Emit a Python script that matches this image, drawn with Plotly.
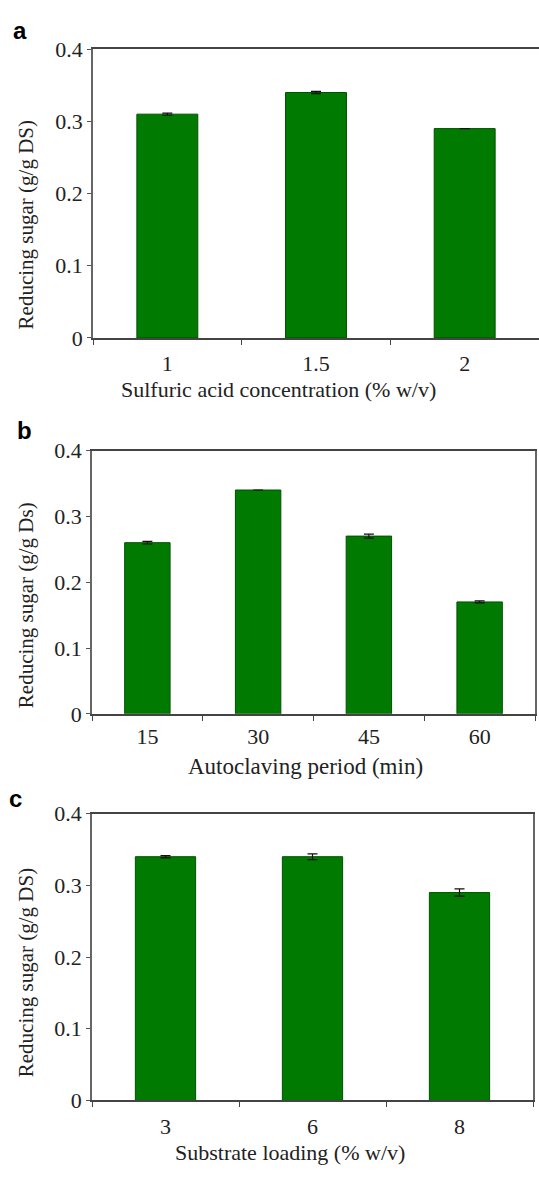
import plotly.graph_objects as go

W, H = 539, 1182

# (a) sulfuric acid concentration
conc_labels = ["1", "1.5", "2"]
conc_sugar = [0.31, 0.34, 0.29]
conc_err = [0.0015, 0.0015, None]

# (b) autoclaving period
period_labels = ["15", "30", "45", "60"]
period_sugar = [0.26, 0.34, 0.27, 0.17]
period_err = [0.002, None, 0.003, 0.0015]

# (c) substrate loading
loading_labels = ["3", "6", "8"]
loading_sugar = [0.34, 0.34, 0.29]
loading_err = [0.0015, 0.004, 0.005]

y_tickvals = [0, 0.1, 0.2, 0.3, 0.4]
y_ticktext = ["0", "0.1", "0.2", "0.3", "0.4"]

BAR = "#017a01"
SERIF = "Liberation Serif, Times New Roman, serif"
INK = "#222222"


def fx(p):
    return p / W


def fy(p):
    return 1 - p / H


panels = [
    dict(labels=conc_labels, values=conc_sugar, err=conc_err,
         x=(93, 539), y=(38, 333), mirror_y=False,
         letter="a", letter_pos=(20, 19), fs=22, xfs=22, standoff=5,
         xtitle="Sulfuric acid concentration (% w/v)", xtitle_pos=(278, 386),
         ytitle="Reducing sugar (g/g DS)", ytitle_y=218),
    dict(labels=period_labels, values=period_sugar, err=period_err,
         x=(92, 535), y=(448, 717), mirror_y=True,
         letter="b", letter_pos=(24, 428), fs=22, xfs=23, standoff=2,
         xtitle="Autoclaving period (min)", xtitle_pos=(305, 771),
         ytitle="Reducing sugar (g/g Ds)", ytitle_y=606),
    dict(labels=loading_labels, values=loading_sugar, err=loading_err,
         x=(92, 533), y=(819, 1112), mirror_y=True,
         letter="c", letter_pos=(15, 804), fs=22, xfs=22, standoff=5,
         xtitle="Substrate loading (% w/v)", xtitle_pos=(290, 1165),
         ytitle="Reducing sugar (g/g DS)", ytitle_y=982),
]

fig = go.Figure()
annotations = []
for i, p in enumerate(panels, start=1):
    xa = "x" if i == 1 else f"x{i}"
    ya = "y" if i == 1 else f"y{i}"
    fig.add_trace(go.Bar(
        x=p["labels"], y=p["values"], xaxis=xa, yaxis=ya,
        width=0.41,
        marker=dict(color=BAR, line=dict(color="#005200", width=1)),
        error_y=dict(type="data", array=p["err"], color="#111111",
                     thickness=1.2, width=5),
        showlegend=False,
    ))
    xkey = "xaxis" if i == 1 else f"xaxis{i}"
    ykey = "yaxis" if i == 1 else f"yaxis{i}"
    fig.update_layout(**{
        xkey: dict(
            domain=[fx(p["x"][0]), fx(p["x"][1])], anchor=ya,
            type="category", tickson="boundaries", ticks="outside",
            ticklen=5, tickwidth=1.2, tickcolor="#444444",
            showline=True, linecolor="#444444", linewidth=1.5,
            mirror=True, showgrid=False, zeroline=False,
            tickfont=dict(family=SERIF, size=p["fs"], color=INK),
            ticklabelstandoff=p["standoff"],
        ),
        ykey: dict(
            domain=[fy(p["y"][1]), fy(p["y"][0])], anchor=xa,
            range=[0, 0.4], tickvals=y_tickvals, ticktext=y_ticktext,
            ticks="outside", ticklen=4, tickwidth=1.2, tickcolor="#555555",
            showline=True, linecolor="#666666", linewidth=1.5,
            mirror=p["mirror_y"], showgrid=False, zeroline=False,
            tickfont=dict(family=SERIF, size=p["fs"], color=INK),
        ),
    })
    annotations.append(dict(
        text=p["xtitle"], xref="paper", yref="paper",
        x=fx(p["xtitle_pos"][0]), y=fy(p["xtitle_pos"][1]),
        xanchor="center", yanchor="middle", showarrow=False,
        font=dict(family=SERIF, size=p["xfs"], color=INK),
    ))
    annotations.append(dict(
        text=p["ytitle"], xref="paper", yref="paper",
        x=fx(26), y=fy(p["ytitle_y"]), textangle=-90,
        xanchor="center", yanchor="middle", showarrow=False,
        font=dict(family=SERIF, size=21, color=INK),
    ))
    annotations.append(dict(
        text=f"<b>{p['letter']}</b>", xref="paper", yref="paper",
        x=fx(p["letter_pos"][0]), y=fy(p["letter_pos"][1]),
        xanchor="center", yanchor="middle", showarrow=False,
        font=dict(family="Liberation Sans, Arial, sans-serif", size=24,
                  color="#000000"),
    ))

fig.update_layout(
    width=W, height=H,
    margin=dict(l=0, r=0, t=0, b=0),
    paper_bgcolor="white", plot_bgcolor="white",
    annotations=annotations,
)

fig.write_html("out.html")
